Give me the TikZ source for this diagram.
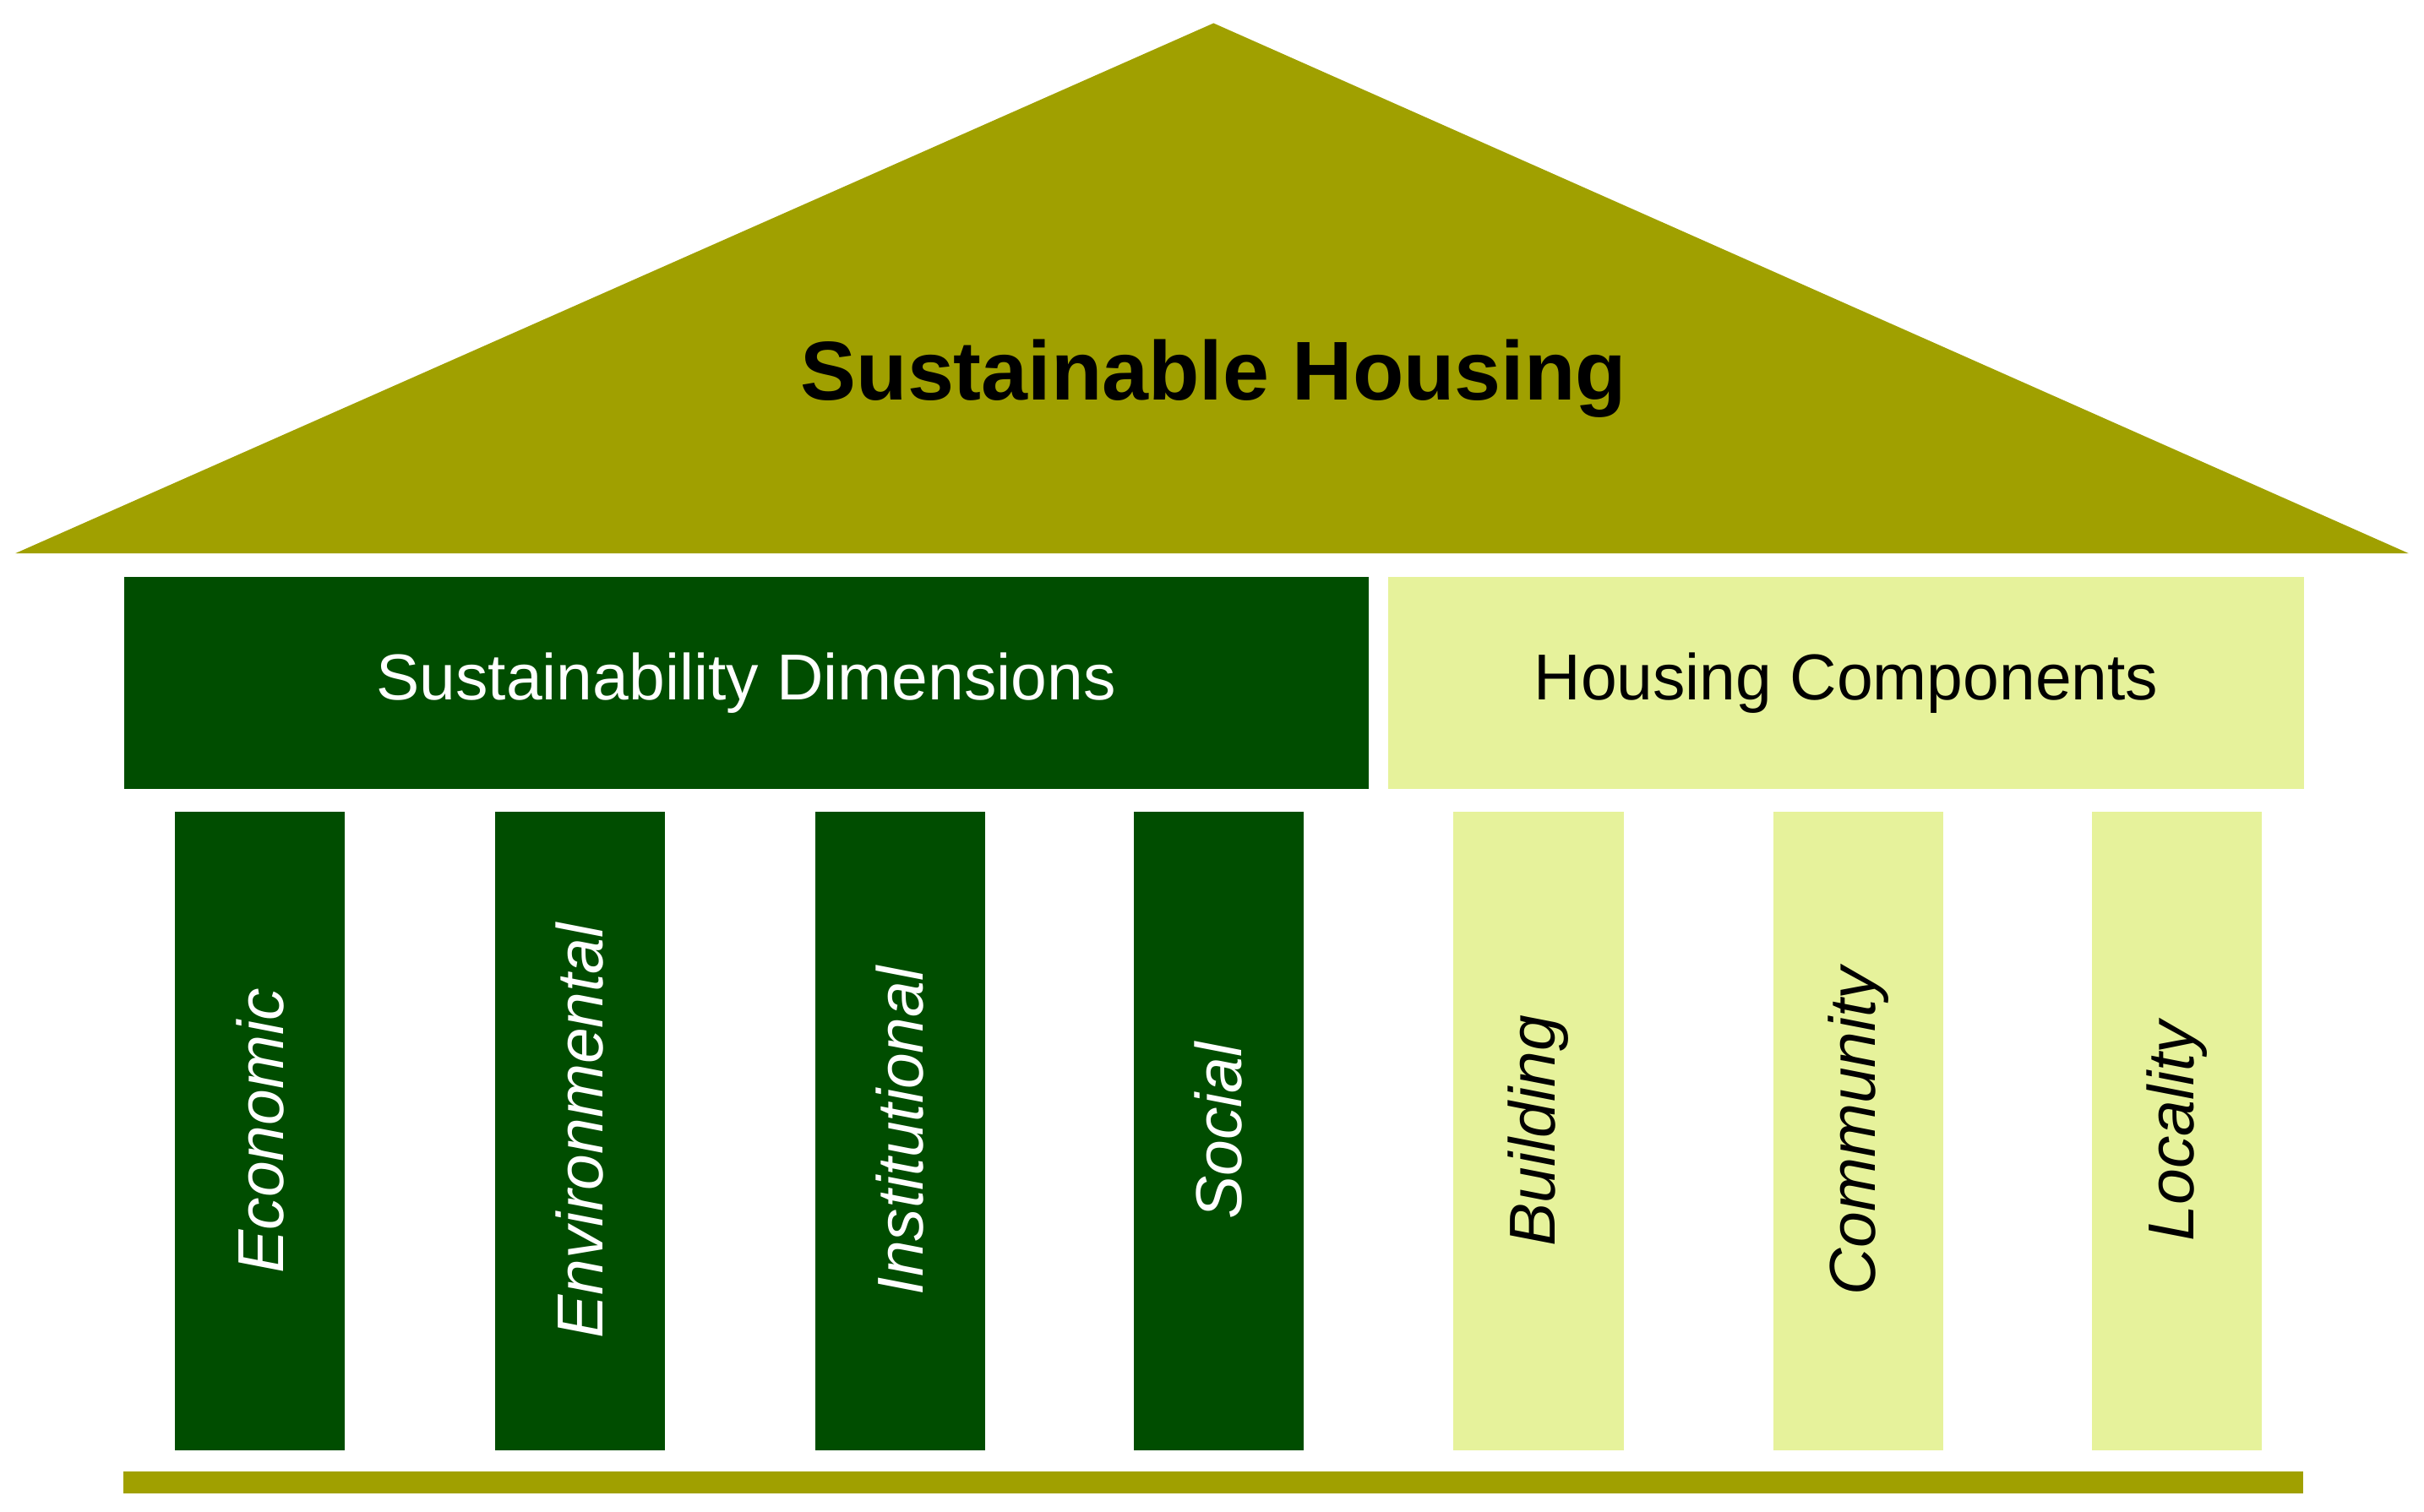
\documentclass[tikz,border=0pt]{standalone}
\usepackage{fontspec}
\setmainfont{Liberation Sans}
\definecolor{olive}{RGB}{160,160,0}
\definecolor{dkg}{RGB}{0,77,0}
\definecolor{ltg}{RGB}{230,242,155}
\begin{document}
\begin{tikzpicture}[x=1pt,y=-1pt,
  dpil/.style={fill=dkg,draw=none,minimum width=110pt,minimum height=413pt,anchor=north west,inner sep=0pt},
  lpil/.style={fill=ltg,draw=none,minimum width=110pt,minimum height=413pt,anchor=north west,inner sep=0pt},
  dtxt/.style={text=white,font=\fontsize{42}{48}\selectfont\itshape,rotate=90},
  ltxt/.style={text=black,font=\fontsize{42}{48}\selectfont\itshape,rotate=90}]
\useasboundingbox (0,0) rectangle (1568,978);
\fill[olive] (785,15) -- (1558,358) -- (10,358) -- cycle;
\node[font=\fontsize{54}{60}\selectfont\bfseries] (title) at (785,245) {Sustainable Housing};
\node[fill=dkg,minimum width=805pt,minimum height=137pt,anchor=north west,inner sep=0pt,text=white,font=\fontsize{42}{48}\selectfont] (sd) at (80,373) {Sustainability Dimensions};
\node[fill=ltg,minimum width=592pt,minimum height=137pt,anchor=north west,inner sep=0pt,font=\fontsize{42}{48}\selectfont] (hc) at (898,373) {Housing Components};
\node[dpil] (p1) at (113,525) {}; \node[dtxt] at (p1.center) {Economic};
\node[dpil] (p2) at (320,525) {}; \node[dtxt] at (p2.center) {Environmental};
\node[dpil] (p3) at (527,525) {}; \node[dtxt] at (p3.center) {Institutional};
\node[dpil] (p4) at (733,525) {}; \node[dtxt] at (p4.center) {Social};
\node[lpil] (p5) at (940,525) {}; \node[ltxt] at (p5.center) {Building};
\node[lpil] (p6) at (1147,525) {}; \node[ltxt] at (p6.center) {Community};
\node[lpil] (p7) at (1353,525) {}; \node[ltxt] at (p7.center) {Locality};
\fill[olive] (80,952) rectangle (1490,966);
\end{tikzpicture}
\end{document}
